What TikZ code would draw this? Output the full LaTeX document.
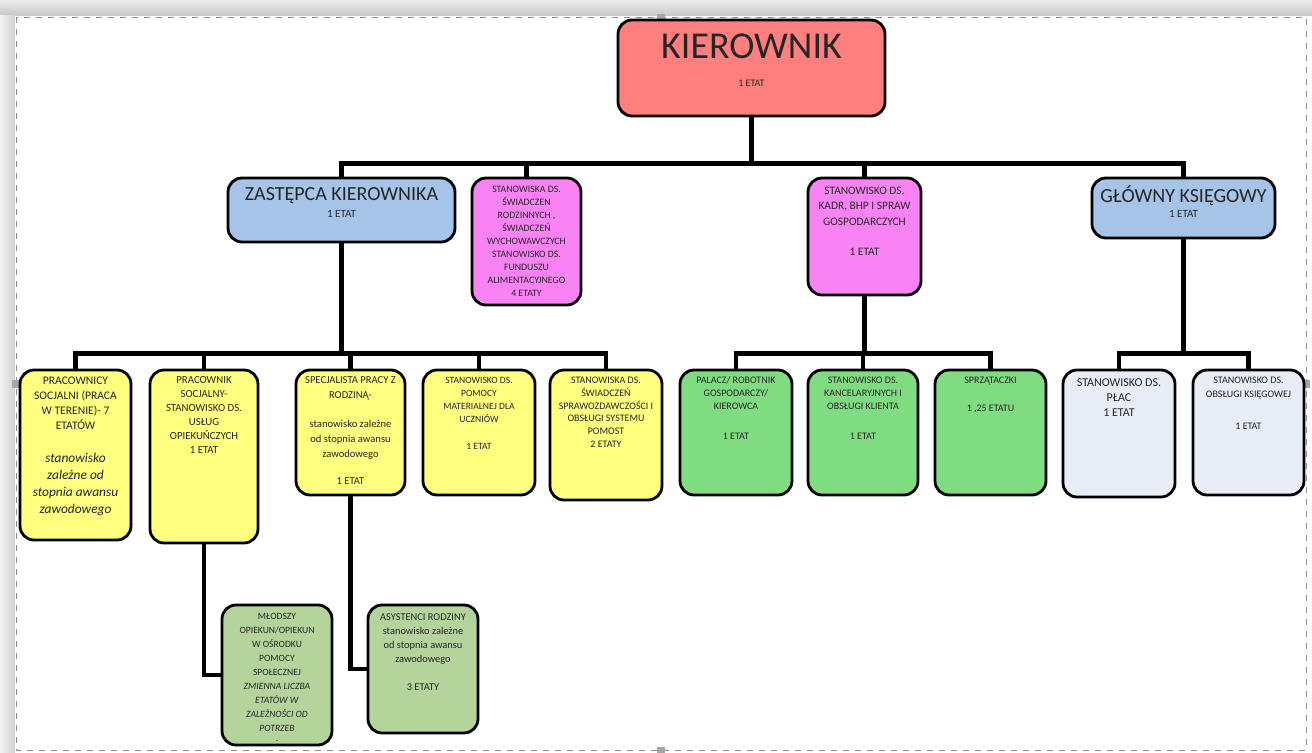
\documentclass[tikz,border=0pt]{standalone}
\usepackage{fontspec}
\setmainfont{Carlito}
\usetikzlibrary{positioning,backgrounds}

\definecolor{czerwony}{HTML}{FF7F7F}
\definecolor{niebieski}{HTML}{A6C3E8}
\definecolor{rozowy}{HTML}{F983F5}
\definecolor{zolty}{HTML}{FFFF7F}
\definecolor{zielony}{HTML}{80DC80}
\definecolor{oliwka}{HTML}{B4D49C}
\definecolor{szary}{HTML}{E8ECF6}

\tikzset{
  pudlo/.style={draw=black, line width=1.4pt, rounded corners=7pt, inner sep=0pt},
  opis/.style={inner sep=0pt, align=center, text=black!85, font=\fontsize{5}{7}\selectfont},
  lacze/.style={line width=2.4pt},
  uchwyt/.style={fill=black!35},
}

\begin{document}
\begin{tikzpicture}[x=0.5pt,y=-0.5pt]
\useasboundingbox (0,0) rectangle (1312,753);

% ramka zrzutu
\shade[top color=black!8, bottom color=black!22] (0,0) rectangle (1312,16);
\shade[left color=black!5, right color=black!18] (0,16) rectangle (15,753);
\draw[black!45, dashed, line width=0.4pt] (16,17) rectangle (1306,750);
\fill[uchwyt] (12,380) rectangle (19,388);
\fill[uchwyt] (657,14) rectangle (665,21);
\fill[uchwyt] (657,747) rectangle (665,753);
\fill[uchwyt] (1303,380) rectangle (1310,388);

% poziom 1
\node[pudlo, fill=czerwony, minimum width=133.5pt, minimum height=48pt] (kier) at (751.5,68) {};
\node[opis, font=\fontsize{19}{22}\selectfont, below=7.5pt of kier.north] (kiert) {KIEROWNIK};
\node[opis] (kiere) at (751.5,83) {1 ETAT};

% poziom 2
\node[pudlo, fill=niebieski, minimum width=113.5pt, minimum height=32pt] (zast) at (341.5,210) {};
\node[opis, font=\fontsize{10}{12}\selectfont] (zastt) at (341.5,196) {ZASTĘPCA KIEROWNIKA};
\node[opis, font=\fontsize{5.5}{7}\selectfont] (zaste) at (341.5,214) {1 ETAT};

\node[pudlo, fill=rozowy, minimum width=54.5pt, minimum height=63.5pt] (swiad) at (526.5,241.5) {};
\node[opis, font=\fontsize{4.9}{6.5}\selectfont, below=4.7pt of swiad.north] (swiadt)
  {STANOWISKA DS.\\ ŚWIADCZEN\\ RODZINNYCH ,\\ ŚWIADCZEŃ\\ WYCHOWAWCZYCH\\ STANOWISKO DS.\\ FUNDUSZU\\ ALIMENTACYJNEGO\\ 4  ETATY};

\node[pudlo, fill=rozowy, minimum width=56.5pt, minimum height=58.5pt] (kadr) at (864.5,236.5) {};
\node[opis, font=\fontsize{5.7}{7.7}\selectfont, below=5pt of kadr.north] (kadrt)
  {STANOWISKO DS.\\ KADR, BHP I SPRAW\\ GOSPODARCZYCH\\[7.7pt] 1 ETAT};

\node[pudlo, fill=niebieski, minimum width=91.5pt, minimum height=30pt] (glow) at (1183.5,208) {};
\node[opis, font=\fontsize{10}{12}\selectfont] (glowt) at (1183.5,196) {GŁÓWNY KSIĘGOWY};
\node[opis, font=\fontsize{5.5}{7}\selectfont] (glowe) at (1183.5,214) {1 ETAT};

% poziom 3 - zastepca
\node[pudlo, fill=zolty, minimum width=55.5pt, minimum height=85pt] (socj) at (75.5,455) {};
\node[opis, font=\fontsize{5.8}{7.5}\selectfont, below=4pt of socj.north] (socjt)
  {PRACOWNICY\\ SOCJALNI  (PRACA\\ W TERENIE)- 7\\ ETATÓW};
\node[opis, font=\fontsize{6.7}{8.5}\selectfont\itshape, below=42pt of socj.north] (socjk)
  {\textit{stanowisko}\\ \textit{zależne od}\\ \textit{stopnia awansu}\\ \textit{zawodowego}};

\node[pudlo, fill=zolty, minimum width=54pt, minimum height=86.5pt] (opiek) at (204,456.5) {};
\node[opis, font=\fontsize{5.4}{7}\selectfont, below=3.8pt of opiek.north] (opiekt)
  {PRACOWNIK\\ SOCJALNY-\\ STANOWISKO DS.\\ USŁUG\\ OPIEKUŃCZYCH\\ 1 ETAT};

\node[pudlo, fill=zolty, minimum width=54.5pt, minimum height=62.5pt] (rodz) at (350.5,432.5) {};
\node[opis, font=\fontsize{5.3}{7.5}\selectfont, below=3.8pt of rodz.north] (rodzt)
  {SPECJALISTA PRACY Z\\ RODZINĄ-\\[7pt] stanowisko zależne\\ od stopnia awansu\\ zawodowego\\[6pt] 1 ETAT};

\node[pudlo, fill=zolty, minimum width=56pt, minimum height=62.5pt] (mater) at (479,432.5) {};
\node[opis, font=\fontsize{4.8}{6.5}\selectfont, below=4pt of mater.north] (matert)
  {STANOWISKO  DS.\\ POMOCY\\ MATERIALNEJ DLA\\ UCZNIÓW\\[7pt] 1 ETAT};

\node[pudlo, fill=zolty, minimum width=56pt, minimum height=65pt] (spraw) at (606,435) {};
\node[opis, font=\fontsize{5}{6.4}\selectfont, below=4pt of spraw.north] (sprawt)
  {STANOWISKA DS.\\ ŚWIADCZEŃ\\ SPRAWOZDAWCZOŚCI I\\ OBSŁUGI SYSTEMU\\ POMOST\\ 2 ETATY};

% poziom 3 - kadry
\node[pudlo, fill=zielony, minimum width=56pt, minimum height=62.5pt] (palacz) at (736,432.5) {};
\node[opis, font=\fontsize{5}{6.5}\selectfont, below=4pt of palacz.north] (palaczt)
  {PALACZ/ ROBOTNIK\\ GOSPODARCZY/\\ KIEROWCA\\[8.5pt] 1 ETAT};

\node[pudlo, fill=zielony, minimum width=55pt, minimum height=62.5pt] (kanc) at (863,432.5) {};
\node[opis, font=\fontsize{5}{6.5}\selectfont, below=4pt of kanc.north] (kanct)
  {STANOWISKO DS.\\ KANCELARYJNYCH I\\ OBSŁUGI KLIENTA\\[8.5pt] 1 ETAT};

\node[pudlo, fill=zielony, minimum width=55.5pt, minimum height=62.5pt] (sprz) at (990.5,432.5) {};
\node[opis, font=\fontsize{5}{6.5}\selectfont, below=4pt of sprz.north] (sprzt)
  {SPRZĄTACZKI\\[7.5pt] 1 ,25 ETATU};

% poziom 3 - ksiegowy
\node[pudlo, fill=szary, minimum width=56pt, minimum height=63.5pt] (plac) at (1119,433.5) {};
\node[opis, font=\fontsize{6}{7.5}\selectfont, below=5pt of plac.north] (plact)
  {STANOWISKO DS.\\ PŁAC\\ 1 ETAT};

\node[pudlo, fill=szary, minimum width=55.5pt, minimum height=62.5pt] (obsl) at (1248.5,432.5) {};
\node[opis, font=\fontsize{5}{7}\selectfont, below=4pt of obsl.north] (obslt)
  {STANOWISKO DS.\\ OBSŁUGI KSIĘGOWEJ\\[9pt] 1 ETAT};

% poziom 4
\node[pudlo, fill=oliwka, minimum width=55pt, minimum height=70pt] (mlod) at (277,675) {};
\node[opis, font=\fontsize{4.8}{7}\selectfont, below=4.5pt of mlod.north] (mlodt)
  {MŁODSZY\\ OPIEKUN/OPIEKUN\\ W OŚRODKU\\ POMOCY\\ SPOŁECZNEJ\\ \textit{ZMIENNA LICZBA}\\ \textit{ETATÓW  W}\\ \textit{ZALEŻNOŚCI OD}\\ \textit{POTRZEB}\\[-2pt] .};

\node[pudlo, fill=oliwka, minimum width=55pt, minimum height=64pt] (asys) at (423,669) {};
\node[opis, font=\fontsize{5.2}{7}\selectfont, below=5pt of asys.north] (asyst)
  {ASYSTENCI RODZINY\\ stanowisko zależne\\ od stopnia awansu\\ zawodowego\\[7pt] 3 ETATY};

% polaczenia
\begin{scope}[on background layer]
\draw[lacze] (kier.south) -- ++(0,46) -| (zast.north);
\draw[lacze] (kier.south) -- ++(0,46) -| (swiad.north);
\draw[lacze] (kier.south) -- ++(0,46) -| (kadr.north);
\draw[lacze] (kier.south) -- ++(0,46) -| (glow.north);

\draw[lacze] (zast.south) -- ++(0,110) -| (socj.north);
\draw[lacze] (zast.south) -- ++(0,110) -| (opiek.north);
\draw[lacze] (zast.south) -- ++(0,110) -| (rodz.north);
\draw[lacze] (zast.south) -- ++(0,110) -| (mater.north);
\draw[lacze] (zast.south) -- ++(0,110) -| (spraw.north);

\draw[lacze] (kadr.south) -- ++(0,57) -| (palacz.north);
\draw[lacze] (kadr.south) -- ++(0,57) -| (kanc.north);
\draw[lacze] (kadr.south) -- ++(0,57) -| (sprz.north);

\draw[lacze] (glow.south) -- ++(0,114) -| (plac.north);
\draw[lacze] (glow.south) -- ++(0,114) -| (obsl.north);

\draw[lacze] (opiek.south) |- (mlod.west);
\draw[lacze] (rodz.south) |- (asys.west);
\end{scope}
\end{tikzpicture}
\end{document}
